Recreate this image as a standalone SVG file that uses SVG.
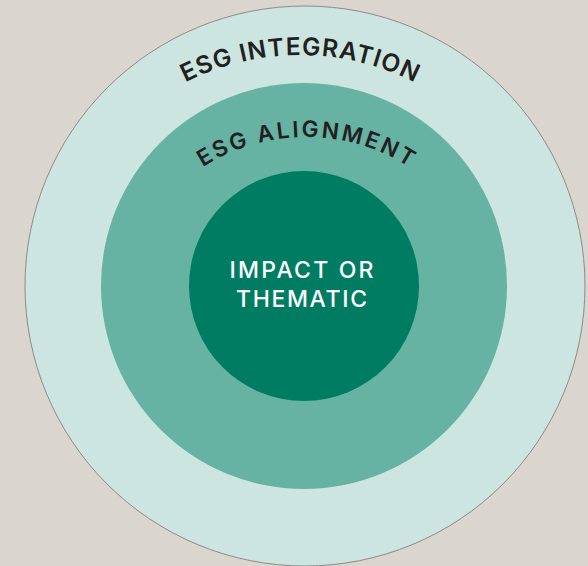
<svg xmlns="http://www.w3.org/2000/svg" width="588" height="566" viewBox="0 0 588 566">
<style>
.arc-label{font-family:Inter,"Open Sans","Liberation Sans",sans-serif;font-weight:600;fill:#231f20}
.center-label{font-family:Inter,"Open Sans","Liberation Sans",sans-serif;font-weight:500;fill:#ffffff;font-size:23px;letter-spacing:1px}
</style>
<defs>
<path id="arcOuter" d="M 46 309 A 254 254 0 0 1 554 309"/>
<path id="arcMiddle" d="M 114 329 A 192 192 0 0 1 498 329"/>
</defs>
<rect width="588" height="566" fill="#dbd5d0"/>
<g id="integration">
<circle cx="305" cy="286" r="280" fill="#cce5e1" stroke="#8f8a85" stroke-width="1"/>
<text class="arc-label" font-size="24.5"><textPath href="#arcOuter" startOffset="50%" text-anchor="middle" textLength="238" lengthAdjust="spacing">ESG INTEGRATION</textPath></text>
</g>
<g id="alignment">
<circle cx="304" cy="286" r="203" fill="#66b2a3"/>
<text class="arc-label" font-size="22.5"><textPath href="#arcMiddle" startOffset="50%" text-anchor="middle" textLength="218" lengthAdjust="spacing">ESG ALIGNMENT</textPath></text>
</g>
<g id="impact">
<circle cx="304" cy="286" r="115" fill="#007c62"/>
<text class="center-label" x="302" y="278" text-anchor="middle" textLength="145" lengthAdjust="spacing">IMPACT OR</text>
<text class="center-label" x="302" y="307" text-anchor="middle" textLength="132" lengthAdjust="spacing">THEMATIC</text>
</g>
<g id="connectors"/>
</svg>
